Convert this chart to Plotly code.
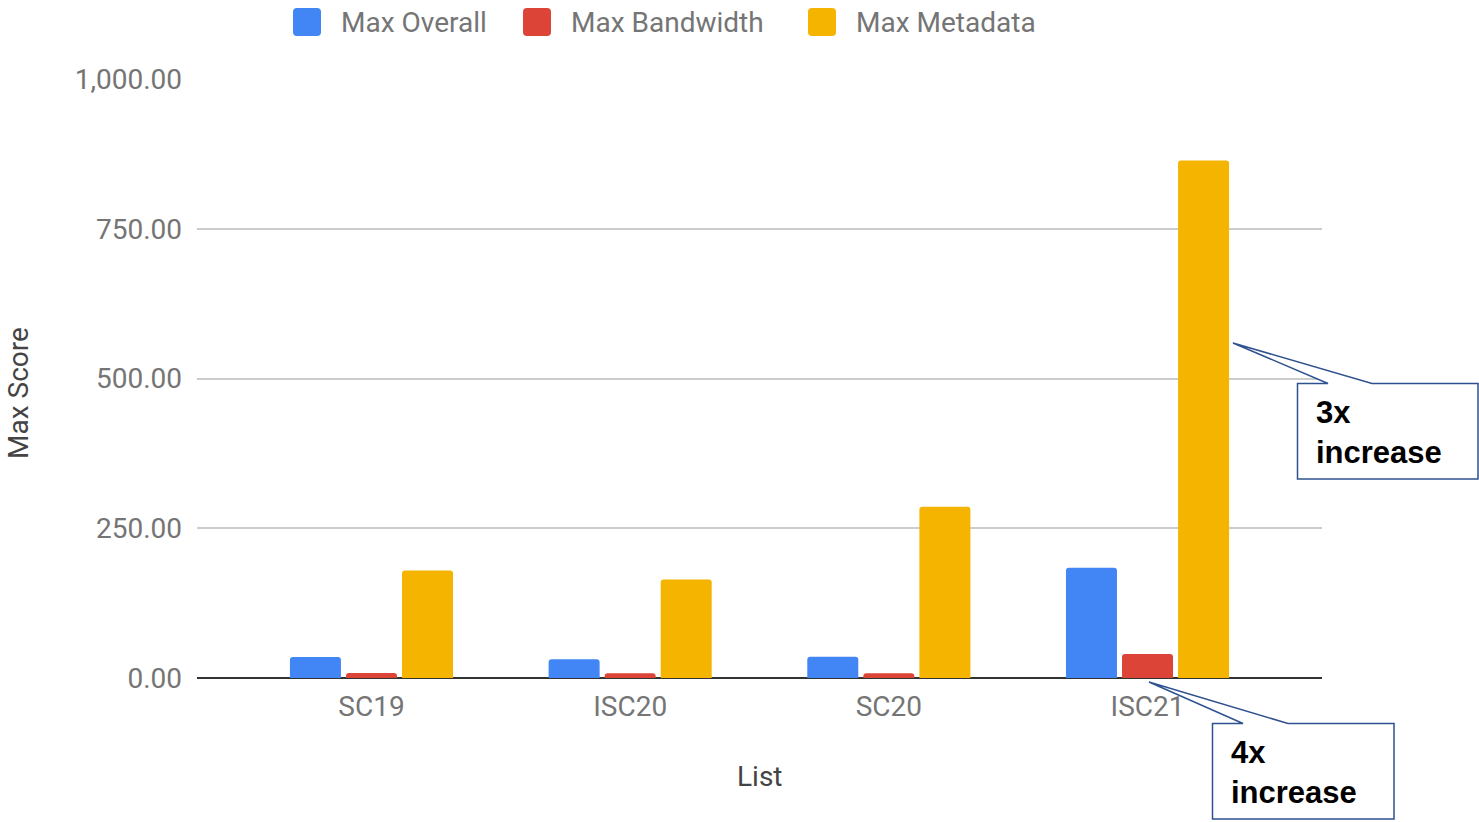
import plotly.graph_objects as go

# ---- data ----
categories = ["SC19", "ISC20", "SC20", "ISC21"]
series_names = ["Max Overall", "Max Bandwidth", "Max Metadata"]
max_overall = [35.0, 31.5, 35.5, 184.0]
max_bandwidth = [8.3, 8.0, 8.0, 40.0]
max_metadata = [179.5, 164.5, 286.0, 864.0]
y_ticks = [0, 250, 500, 750, 1000]
callout_texts = ["3x<br>increase", "4x<br>increase"]

colors = ["#4285F4", "#DB4437", "#F4B400"]
W, H = 1479, 822
L, R, T, B = 197, 1322, 79, 678  # plot area in pixels


def px(xp):
    return (xp - L) / (R - L)


def py(yp):
    return (B - yp) / (B - T)


fig = go.Figure()
for name, vals, col in zip(series_names, [max_overall, max_bandwidth, max_metadata], colors):
    fig.add_trace(go.Bar(x=categories, y=vals, name=name,
                         marker=dict(color=col, line=dict(width=0), cornerradius=3),
                         showlegend=False))

shapes = []
annotations = []

# custom legend
legend_sq_x = [293, 523, 808]
for name, col, sx in zip(series_names, colors, legend_sq_x):
    x0, x1, y0, y1 = sx, sx + 28, 8, 36
    r = 4
    path = (f"M{px(x0 + r)},{py(y0)} L{px(x1 - r)},{py(y0)} Q{px(x1)},{py(y0)} {px(x1)},{py(y0 + r)} "
            f"L{px(x1)},{py(y1 - r)} Q{px(x1)},{py(y1)} {px(x1 - r)},{py(y1)} "
            f"L{px(x0 + r)},{py(y1)} Q{px(x0)},{py(y1)} {px(x0)},{py(y1 - r)} "
            f"L{px(x0)},{py(y0 + r)} Q{px(x0)},{py(y0)} {px(x0 + r)},{py(y0)} Z")
    shapes.append(dict(type="path", xref="paper", yref="paper", path=path,
                       fillcolor=col, line=dict(width=0)))
    annotations.append(dict(xref="paper", yref="paper", x=px(sx + 46), y=py(23),
                            xanchor="left", yanchor="middle", text=name, showarrow=False,
                            font=dict(family="Roboto", size=28, color="#757575")))


def callout(box, base1, base2, tip, text, text_x):
    x0, y0, x1, y1 = box
    pts = [(x0, y0), (base1, y0), tip, (base2, y0), (x1, y0), (x1, y1), (x0, y1)]
    path = "M" + " L".join(f"{px(a)},{py(b)}" for a, b in pts) + " Z"
    shapes.append(dict(type="path", xref="paper", yref="paper", path=path,
                       fillcolor="white", line=dict(color="#2F528F", width=1.5), layer="above"))
    annotations.append(dict(xref="paper", yref="paper", x=px(text_x), y=py((y0 + y1) / 2 + 1),
                            xanchor="left", yanchor="middle", align="left", text=text,
                            showarrow=False,
                            font=dict(family="Liberation Sans", size=31, color="black", weight="bold")))


callout((1297.5, 383.5, 1478, 479), 1328, 1372, (1233, 343), callout_texts[0], 1314)
callout((1212.5, 723.5, 1394, 819), 1243, 1288, (1149, 682), callout_texts[1], 1229)

annotations.append(dict(xref="paper", yref="paper", x=px(18), y=py(393), text="Max Score",
                        textangle=-90, showarrow=False, xanchor="center", yanchor="middle",
                        font=dict(family="Roboto", size=28, color="#444444")))
annotations.append(dict(xref="paper", yref="paper", x=px(760), y=py(776), text="List",
                        showarrow=False, xanchor="center", yanchor="middle",
                        font=dict(family="Roboto", size=28, color="#444444")))

fig.update_layout(
    width=W, height=H,
    margin=dict(l=L, r=W - R, t=T, b=H - B, pad=0),
    paper_bgcolor="white", plot_bgcolor="white",
    barmode="group", bargap=0.35, bargroupgap=0.09,
    shapes=shapes, annotations=annotations,
    font=dict(family="Roboto"),
)
fig.update_xaxes(range=[-0.6745, 3.6745], showgrid=False, showline=False, zeroline=False,
                 tickfont=dict(family="Roboto", size=28, color="#757575"), ticks="",
                 ticklabelstandoff=9)
fig.update_yaxes(range=[0, 1000], tickvals=y_ticks, tickformat=",.2f",
                 showgrid=True, gridcolor="#CCCCCC", gridwidth=1.5,
                 zeroline=True, zerolinecolor="#333333", zerolinewidth=2,
                 showline=False, ticks="",
                 tickfont=dict(family="Roboto", size=28, color="#757575"),
                 ticklabelstandoff=14)

fig.write_html("out.html")
